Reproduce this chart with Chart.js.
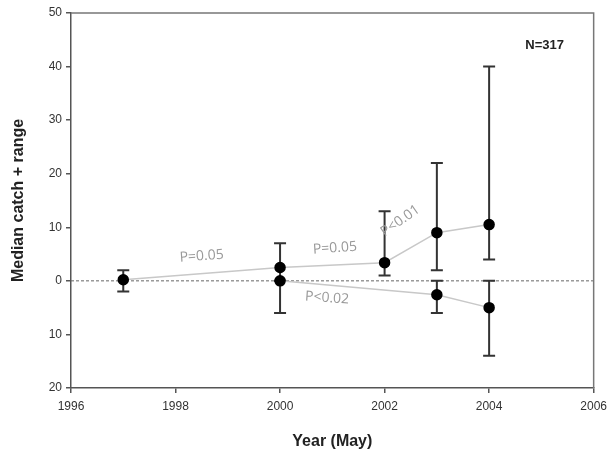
<!DOCTYPE html>
<html>
<head>
<meta charset="utf-8">
<script src="https://cdn.jsdelivr.net/npm/chart.js@4"></script>
<style>
  html, body { margin: 0; padding: 0; background: #fff; }
  #wrap { width: 613px; height: 455px; position: relative; }
</style>
</head>
<body>
<div id="wrap"><canvas id="myChart"></canvas></div>
<script>
// data
const years = [1997, 2000, 2002, 2003, 2004];
const upperMedian = [0.2, 2.5, 3.4, 9, 10.5];
const upperMin = [-2, 0, 1, 2, 4];
const upperMax = [2, 7, 13, 22, 40];

const lowerYears = [2000, 2003, 2004];
const lowerMedian = [0, -2.6, -5];
const lowerMin = [-6, -6, -14];
const lowerMax = [0, 0, 0];

const yTicks = [-20, -10, 0, 10, 20, 30, 40, 50];
const xTicks = [1996, 1998, 2000, 2002, 2004, 2006];

// trend notes: [text, year, value, angle in degrees]
const notes = [
  ['P=0.05', 1998.5, 4.6, -4],
  ['P=0.05', 2001.05, 6.1, -4],
  ['P<0.01', 2002.3, 11.2, -35],
  ['P<0.02', 2000.9, -3.2, 4]
];

const axisColor = '#555';
const fontFam = '"Liberation Sans", Arial, sans-serif';

const frameAndBars = {
  id: 'frameAndBars',
  beforeDatasetsDraw(chart) {
    const {ctx, chartArea, scales} = chart;
    const x = scales.x, y = scales.y;
    ctx.save();
    // dotted zero line
    ctx.strokeStyle = '#666';
    ctx.lineWidth = 1;
    ctx.setLineDash([3, 2]);
    ctx.beginPath();
    ctx.moveTo(chartArea.left, y.getPixelForValue(0));
    ctx.lineTo(chartArea.right, y.getPixelForValue(0));
    ctx.stroke();
    ctx.setLineDash([]);

    // range bars
    ctx.strokeStyle = '#333';
    ctx.lineWidth = 2;
    const bar = (yr, lo, hi) => {
      const px = x.getPixelForValue(yr);
      const p1 = y.getPixelForValue(lo), p2 = y.getPixelForValue(hi);
      ctx.beginPath();
      ctx.moveTo(px, p1); ctx.lineTo(px, p2);
      ctx.moveTo(px - 6, p1); ctx.lineTo(px + 6, p1);
      ctx.moveTo(px - 6, p2); ctx.lineTo(px + 6, p2);
      ctx.stroke();
    };
    years.forEach((yr, i) => bar(yr, upperMin[i], upperMax[i]));
    lowerYears.forEach((yr, i) => bar(yr, lowerMin[i], lowerMax[i]));

    // frame top / right
    ctx.strokeStyle = '#777';
    ctx.lineWidth = 1.5;
    ctx.beginPath();
    ctx.moveTo(chartArea.left, chartArea.top);
    ctx.lineTo(chartArea.right, chartArea.top);
    ctx.lineTo(chartArea.right, chartArea.bottom);
    ctx.stroke();
    ctx.restore();
  },
  afterDraw(chart) {
    const {ctx, chartArea, scales} = chart;
    ctx.save();
    ctx.fillStyle = '#999';
    ctx.font = '14px "Open Sans", sans-serif';
    ctx.textAlign = 'center';
    ctx.textBaseline = 'middle';
    notes.forEach(n => {
      ctx.save();
      ctx.translate(scales.x.getPixelForValue(n[1]), scales.y.getPixelForValue(n[2]));
      ctx.rotate(n[3] * Math.PI / 180);
      ctx.fillText(n[0], 0, 0);
      ctx.restore();
    });
    ctx.fillStyle = '#222';
    ctx.font = 'bold 13px ' + fontFam;
    ctx.fillText('N=317', chartArea.right - 49, chartArea.top + 32);
    ctx.restore();
  }
};

new Chart(document.getElementById('myChart'), {
  type: 'line',
  data: {
    datasets: [{
      label: 'upper',
      data: years.map((yr, i) => ({x: yr, y: upperMedian[i]})),
      borderColor: '#c8c8c8',
      borderWidth: 1.5,
      pointBackgroundColor: '#000',
      pointBorderColor: '#000',
      pointRadius: 5,
      tension: 0
    }, {
      label: 'lower',
      data: lowerYears.map((yr, i) => ({x: yr, y: lowerMedian[i]})),
      borderColor: '#c8c8c8',
      borderWidth: 1.5,
      pointBackgroundColor: '#000',
      pointBorderColor: '#000',
      pointRadius: 5,
      tension: 0
    }]
  },
  options: {
    responsive: true,
    maintainAspectRatio: false,
    animation: false,
    layout: { padding: { top: 13, right: 19, bottom: 0, left: 0 } },
    plugins: { legend: { display: false }, tooltip: { enabled: false } },
    scales: {
      x: {
        type: 'linear',
        min: 1996, max: 2006,
        afterBuildTicks: s => { s.ticks = xTicks.map(v => ({value: v})); },
        afterFit: s => { s.height = 67; },
        ticks: {
          callback: v => String(v),
          color: '#333',
          font: { family: fontFam, size: 12 },
          padding: 6,
          maxRotation: 0
        },
        grid: { drawOnChartArea: false, tickLength: 5, color: axisColor, lineWidth: 1.5 },
        border: { color: axisColor, width: 1.5 },
        title: {
          display: true, text: 'Year (May)', color: '#222',
          font: { family: fontFam, size: 16, weight: 'bold' },
          padding: { top: 0, bottom: 4 }
        }
      },
      y: {
        min: -20, max: 50,
        afterBuildTicks: s => { s.ticks = yTicks.map(v => ({value: v})); },
        afterFit: s => { s.width = 71; },
        ticks: {
          callback: v => String(Math.abs(v)),
          color: '#333',
          font: { family: fontFam, size: 12 },
          padding: 4
        },
        grid: { drawOnChartArea: false, tickLength: 5, color: axisColor, lineWidth: 1.5 },
        border: { color: axisColor, width: 1.5 },
        title: {
          display: true, text: 'Median catch + range', color: '#222',
          font: { family: fontFam, size: 16, weight: 'bold' },
          padding: { top: 9, bottom: 0 }
        }
      }
    }
  },
  plugins: [frameAndBars]
});
</script>
</body>
</html>
